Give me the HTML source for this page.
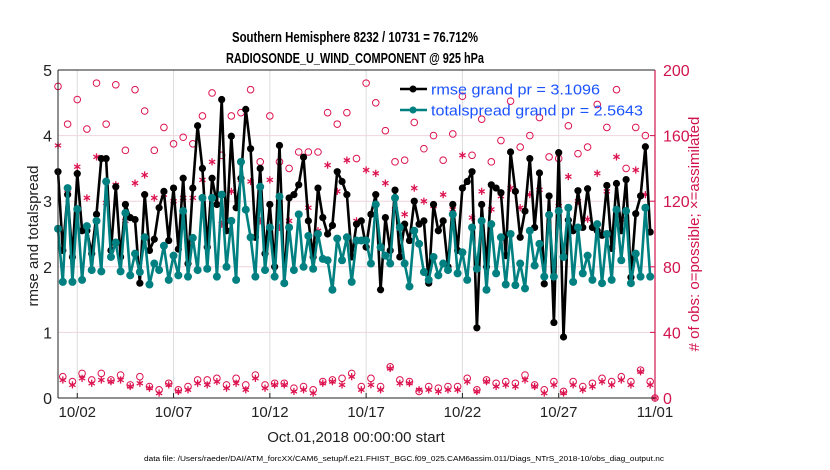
<!DOCTYPE html>
<html><head><meta charset="utf-8"><style>
body{margin:0;background:#fff;}
svg{display:block;font-family:"Liberation Sans",sans-serif;}
</style></head><body>
<svg id="chart" width="830" height="470" viewBox="0 0 830 470">
<g id="grid"></g>
<g id="series"></g>
<g id="axes"></g>
<text x="355" y="42" font-size="15" font-weight="bold" text-anchor="middle" textLength="246" lengthAdjust="spacingAndGlyphs">Southern Hemisphere 8232 / 10731 = 76.712%</text>
<text x="355" y="63" font-size="15" font-weight="bold" text-anchor="middle" textLength="258" lengthAdjust="spacingAndGlyphs">RADIOSONDE_U_WIND_COMPONENT @ 925 hPa</text>
<text transform="translate(38,236) rotate(-90)" font-size="15" text-anchor="middle" fill="#222">rmse and totalspread</text>
<text transform="translate(699,234) rotate(-90)" font-size="15" text-anchor="middle" fill="#d2144e"># of obs: o=possible; ×=assimilated</text>
<text x="356" y="442" font-size="15" text-anchor="middle" fill="#222">Oct.01,2018 00:00:00 start</text>
<text x="404" y="461" font-size="7" text-anchor="middle" fill="#000" textLength="520" lengthAdjust="spacingAndGlyphs">data file: /Users/raeder/DAI/ATM_forcXX/CAM6_setup/f.e21.FHIST_BGC.f09_025.CAM6assim.011/Diags_NTrS_2018-10/obs_diag_output.nc</text>
<g>
<line x1="400" y1="89" x2="427" y2="89" stroke="#000" stroke-width="2.5"/>
<circle cx="413" cy="89" r="3.5" fill="#000"/>
<text x="431" y="94.5" font-size="15" fill="#1a53ff" textLength="169" lengthAdjust="spacingAndGlyphs">rmse grand pr = 3.1096</text>
<line x1="400" y1="110" x2="427" y2="110" stroke="#008080" stroke-width="2.5"/>
<circle cx="413" cy="110" r="3.5" fill="#008080"/>
<text x="431" y="115.5" font-size="15" fill="#1a53ff" textLength="212" lengthAdjust="spacingAndGlyphs">totalspread grand pr = 2.5643</text>
</g>
</svg>
<script>
const rmse=[3.45,2.25,3.1,2.15,3.42,2.55,2.55,2.2,2.8,3.65,3.65,2.25,3.22,2.15,2.95,2.75,2.72,1.75,3.1,2.25,2.42,2.9,3.15,2.4,3.2,2.27,3.35,2.05,3.2,4.15,
3.5,2.3,3.35,2.95,4.55,2.55,3.99,2.9,3.35,4.4,3.8,2.45,3.5,2.2,2.95,2.0,3.85,1.75,3.05,3.1,3.25,3.67,2.7,2.15,3.2,2.75,2.5,2.63,3.45,3.3,3.1,
2.15,2.65,2.7,2.3,2.8,3.1,1.65,2.75,2.25,3.17,2.15,2.65,2.4,3.0,2.65,2.7,1.75,2.95,2.55,2.7,2.0,2.95,2.25,3.2,3.3,3.45,1.07,2.95,2.0,3.25,3.2,
3.13,2.17,3.75,3.15,2.45,2.85,3.65,2.6,3.43,1.74,3.08,1.15,3.74,0.93,2.71,2.55,3.16,2.6,3.19,2.6,2.55,2.48,3.24,2.28,3.27,2.55,3.33,1.84,2.81,3.08,3.83,2.53];
const spread=[2.58,1.77,3.2,1.77,2.88,1.8,2.62,1.95,2.7,1.93,3.3,2.15,2.37,1.93,2.82,1.87,2.2,1.92,2.45,1.73,2.05,1.95,2.32,1.8,2.17,1.87,2.85,1.85,2.44,1.95,
3.05,1.97,3.05,1.85,3.1,2.0,2.7,1.8,3.6,2.87,2.45,1.85,3.22,1.95,2.6,1.85,3.07,1.75,2.6,1.95,2.8,2.0,2.47,1.97,2.5,2.12,2.1,1.65,2.43,2.1,2.45,
1.77,2.4,2.4,2.4,2.05,2.95,2.3,2.17,2.05,3.05,2.6,2.05,1.7,2.55,2.35,1.92,1.8,2.15,1.87,2.05,1.95,2.8,1.9,2.22,1.8,2.6,1.97,2.7,1.65,2.65,1.9,
2.45,1.73,2.5,1.72,2.05,1.67,2.55,2.02,2.35,1.85,2.79,1.85,2.85,2.15,2.9,1.77,2.6,1.9,2.17,1.8,2.65,1.75,2.5,1.8,2.87,2.1,2.85,1.75,2.2,1.85,2.9,1.85];
const obsPossible=[190,13,167,10,182,15,164,11,192,15,167,11,191,14,151,8,188,13,175,7,151,5,165,9,155,5,159,7,155,11,
172,11,186,12,148,8,172,12,174,8,188,14,144,8,172,9,144,9,140,6,150,7,150,5,150,10,174,11,167,12,
174,15,146,7,192,12,180,7,163,19,144,11,145,10,168,4,152,7,160,6,145,7,161,7,184,12,148,5,170,11,
144,9,157,10,181,9,153,14,160,8,171,5,147,10,146,4,166,10,149,7,153,9,179,12,165,10,188,13,140,10,165,17,160,10,0];
const obsAssim=[154,11,125,8,141,12,122,9,147,11,119,10,130,11,108,7,131,9,136,6,122,3,124,8,120,4,122,5,122,9,
133,8,144,10,106,6,126,9,133,5,132,12,108,6,133,8,104,8,108,4,112,5,116,3,102,9,142,10,126,8,
145,13,108,5,139,8,137,5,131,18,115,9,112,9,128,5,120,5,117,4,124,5,115,5,148,10,110,4,126,10,
115,7,123,8,128,7,116,11,124,7,127,3,112,8,117,3,135,8,120,5,109,7,137,10,126,8,147,11,109,8,139,16,124,8,0];
const xTickDays=[1,6,11,16,21,26,31];
const xTickLabels=["10/02","10/07","10/12","10/17","10/22","10/27","11/01"];
const yTicks=[0,1,2,3,4,5];
const yRightTicks=[0,40,80,120,160,200];
const stepDays=0.25;

const NS="http://www.w3.org/2000/svg";
const L=58,R=655,T=70,B=398;
const xS=d=>L+(d-0)/(31-0)*(R-L);
const yS=v=>B-(v/5)*(B-T);
const yR=v=>B-(v/200)*(B-T);
function mk(tag,attrs,parent){const e=document.createElementNS(NS,tag);for(const k in attrs)e.setAttribute(k,attrs[k]);parent.appendChild(e);return e;}
const grid=document.getElementById('grid'),ser=document.getElementById('series'),axes=document.getElementById('axes');

xTickDays.forEach((d,i)=>{
  const l=mk('line',{x1:xS(d),x2:xS(d),y1:T,y2:B,stroke:'#dcdcdc','stroke-width':1},grid);
  
  
  const t=mk('text',{x:xS(d),y:B+19,'font-size':15,'text-anchor':'middle',fill:'#222'},axes);
  t.textContent=xTickLabels[i];
  
  
  const tk=mk('line',{x1:xS(d),x2:xS(d),y1:B,y2:B-5,stroke:'#222'},axes);
  
  
});
yTicks.forEach(v=>{
  if(v>0&&v<5){const l=mk('line',{x1:L,x2:R,y1:yS(v),y2:yS(v),stroke:'#f0d4de','stroke-width':1},grid);
  
  }
  const t=mk('text',{x:L-6,y:yS(v)+6,'font-size':16,'text-anchor':'end',fill:'#222'},axes);
  t.textContent=v;
  
  
});
yRightTicks.forEach(v=>{
  const t=mk('text',{x:R+8,y:yR(v)+6,'font-size':16,'text-anchor':'start',fill:'#d2144e'},axes);
  t.textContent=v;
  
  
  const tk=mk('line',{x1:R,x2:R-5,y1:yR(v),y2:yR(v),stroke:'#d2144e'},axes);
  
  
});
let a=mk('line',{x1:L,x2:L,y1:T,y2:B,stroke:'#222','stroke-width':1},axes);

a=mk('line',{x1:L,x2:R,y1:T,y2:T,stroke:'#222','stroke-width':1},axes);

a=mk('line',{x1:L,x2:R,y1:B,y2:B,stroke:'#222','stroke-width':1},axes);

a=mk('line',{x1:R,x2:R,y1:T,y2:B,stroke:'#d2144e','stroke-width':1.2},axes);


const red='#dc1450';
function star(cx,cy,g){
  const s=3.6;
  for(let k=0;k<3;k++){const ang=Math.PI/2+k*Math.PI/3;
    mk('line',{x1:cx-s*Math.cos(ang),y1:cy-s*Math.sin(ang),x2:cx+s*Math.cos(ang),y2:cy+s*Math.sin(ang),stroke:red,'stroke-width':1.3},g);}
}
obsPossible.forEach((v,i)=>{
  const c=mk('circle',{cx:xS(i*stepDays),cy:yR(v),r:3.3,fill:'none',stroke:red,'stroke-width':1},ser);
  
  
});
obsAssim.forEach((v,i)=>{
  const g=mk('g',{},ser);
  
  
  star(xS(i*stepDays),yR(v),g);
});
function line(arr,color,name,starMarker){
  const pts=arr.map((v,i)=>xS(i*stepDays).toFixed(1)+','+yS(v).toFixed(1)).join(' ');
  const p=mk('polyline',{points:pts,fill:'none',stroke:color,'stroke-width':2.6,'stroke-linejoin':'round'},ser);
  
  
  arr.forEach((v,i)=>{
    const c=mk('circle',{cx:xS(i*stepDays),cy:yS(v),r:starMarker?3.6:4,fill:color},ser);
    
    
  });
}
line(rmse,'#000','rmse',true);
line(spread,'#008080','totalspread',false);
</script>
</body></html>
